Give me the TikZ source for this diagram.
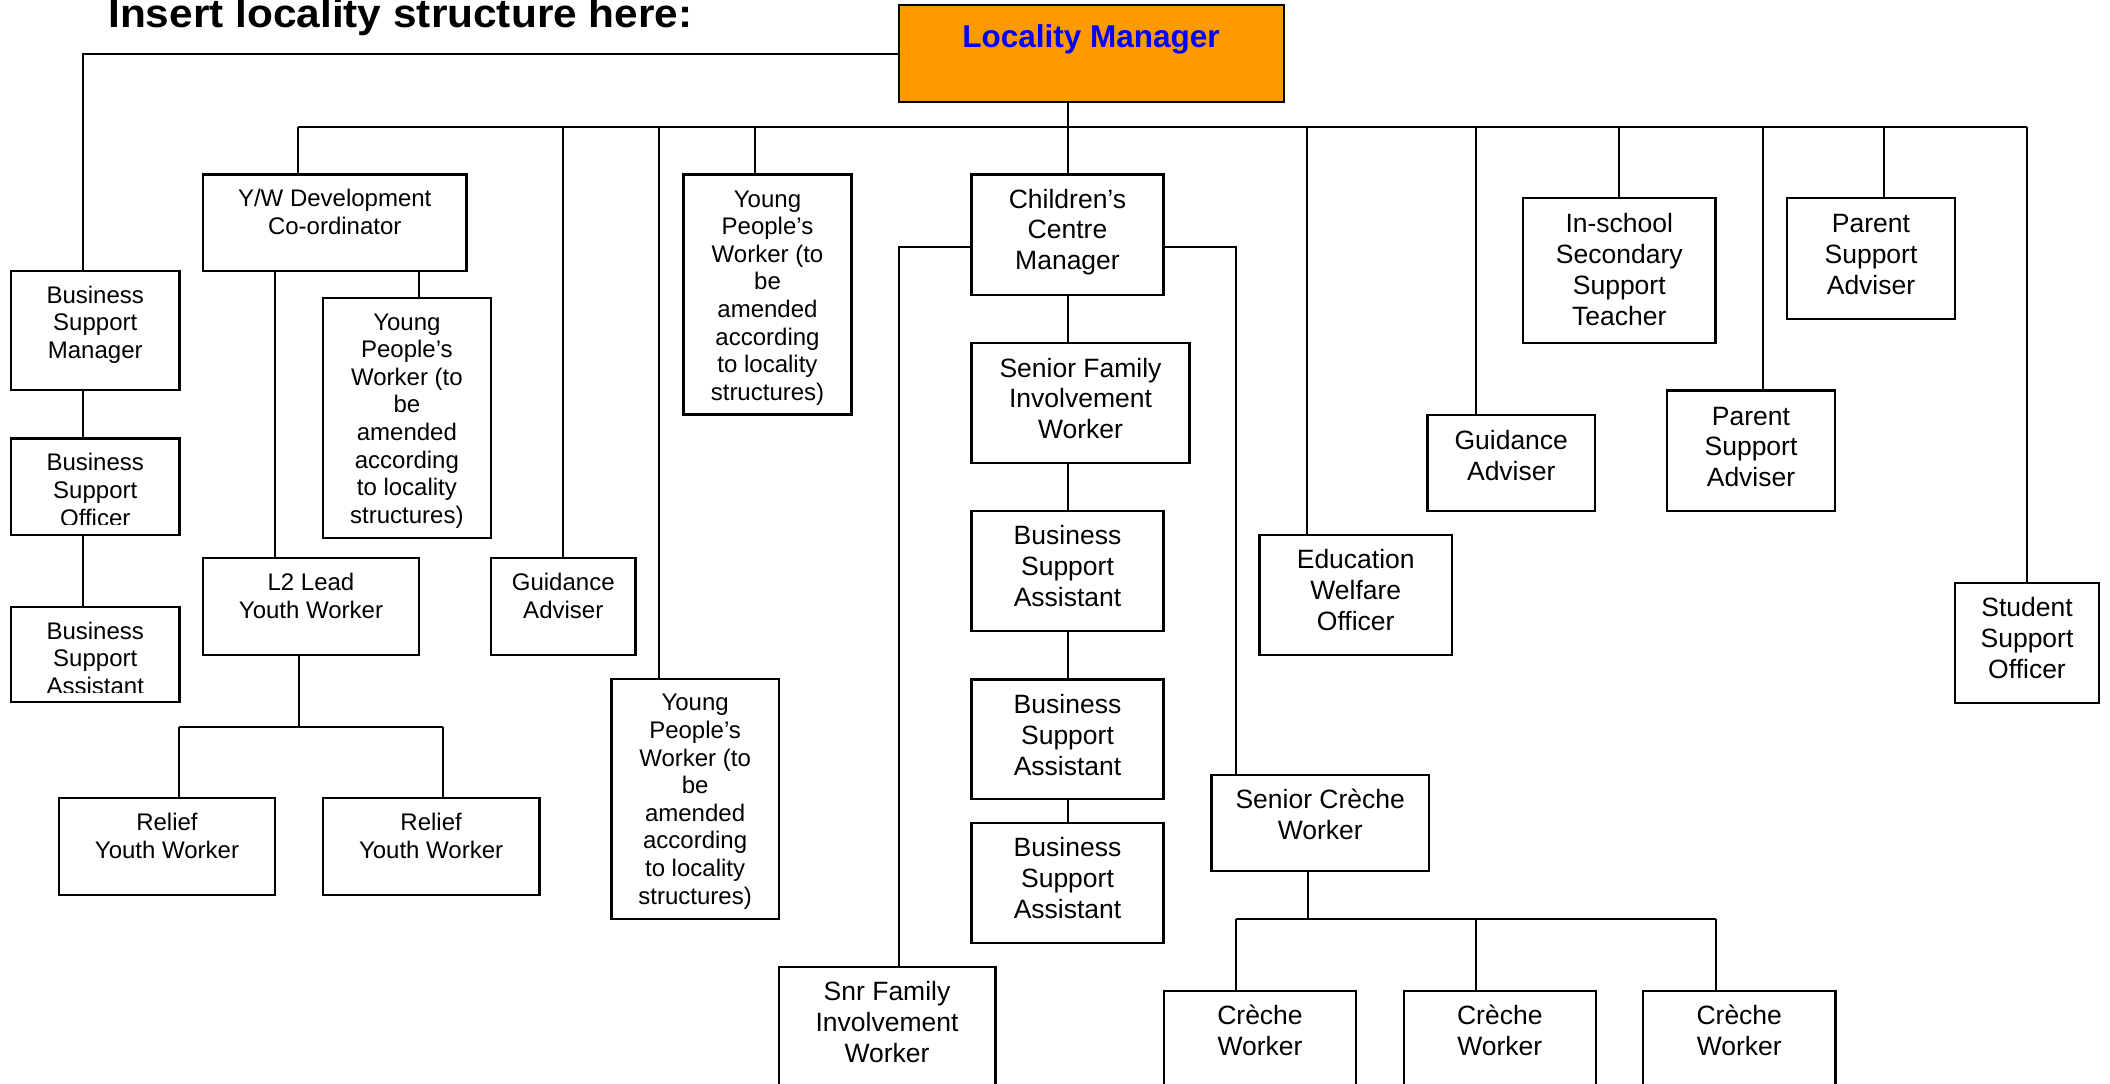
\documentclass[tikz,border=0pt]{standalone}
\usepackage{fontspec}
\setmainfont{Liberation Sans}
\definecolor{lmorange}{HTML}{FF9900}
\definecolor{lmblue}{HTML}{0000FF}
\tikzset{
  orgbox/.style={draw=black, line width=2.2pt, rectangle, inner sep=0pt, fill=white},
  link/.style={draw=black, line width=2pt},
  smalltxt/.style={inner sep=0pt, align=center, anchor=north, font=\fontsize{24}{27.6}\selectfont},
  bigtxt/.style={inner sep=0pt, align=center, anchor=north, font=\fontsize{26.5}{30.8}\selectfont},
}
% box from its corners: name, x1, y1, x2, y2 (y grows downwards)
\newcommand\orgnode[6][]{%
  \node[orgbox, #1, minimum width={(#5)-(#3)}, minimum height={(#6)-(#4)}]
    (#2) at ({((#3)+(#5))/2},{((#4)+(#6))/2}) {};}
% text in a box, first baseline given as an offset below the box top
\newcommand\smalltext[3]{\path (#1.north) ++(0,{#2-19.32}) node[smalltxt] (#1-t) {\strut #3};}
\newcommand\bigtext[3]{\path (#1.north) ++(0,{#2-21.56}) node[bigtxt] (#1-t) {\strut #3};}
\begin{document}
\begin{tikzpicture}[x=1pt,y=-1pt]
\useasboundingbox (0,0) rectangle (2110,1084);

% heading
\node[font=\fontsize{40}{46}\selectfont\bfseries, anchor=base west, inner sep=0pt, xscale=1.06]
  (title) at (108,27.5) {Insert locality structure here:};

% boxes
\orgnode[fill=lmorange]{lm}{899}{5}{1284}{102}
\orgnode{bsm}{11}{270.7}{179.5}{390}
\orgnode{bso}{11}{438.5}{179.5}{535}
\orgnode{bsaz}{11}{606.7}{179.5}{702}
\orgnode{yw}{203}{174.5}{466.5}{270.7}
\orgnode{ypwz}{322.8}{298.3}{491}{538.3}
\orgnode{ltwo}{203}{558.3}{419}{655}
\orgnode{gaa}{491}{558.3}{635.5}{655}
\orgnode{rela}{59}{798.3}{275}{895}
\orgnode{relb}{322.7}{798.3}{539.5}{895}
\orgnode{ypwa}{683.5}{174.5}{851.5}{414.5}
\orgnode{ypwb}{611.5}{679}{778.7}{918.7}
\orgnode{ccm}{971.5}{174.5}{1163.5}{294.7}
\orgnode{sfiw}{971.5}{342.9}{1189.5}{462.9}
\orgnode{bsaa}{971.5}{510.7}{1163.5}{631}
\orgnode{bsab}{971.5}{679.5}{1163.5}{798.7}
\orgnode{bsac}{971.5}{822.7}{1163.5}{943.3}
\orgnode{snr}{778.7}{966.7}{995.4}{1100}
\orgnode{scw}{1211.5}{774.7}{1429}{871}
\orgnode{cwa}{1164}{990.7}{1356}{1100}
\orgnode{cwb}{1403.6}{990.7}{1596}{1100}
\orgnode{cwc}{1643}{990.7}{1835.5}{1100}
\orgnode{ewo}{1259.5}{534.6}{1452}{654.6}
\orgnode{gab}{1427.5}{414.6}{1595}{510.7}
\orgnode{ins}{1523}{198.2}{1715.5}{342.9}
\orgnode{psaa}{1787}{198.2}{1955}{318.6}
\orgnode{psab}{1667}{390.4}{1835}{510.7}
\orgnode{sso}{1955}{582.9}{2099}{702.9}

% texts
\node[font=\fontsize{31.5}{36}\selectfont\bfseries, text=lmblue, anchor=base, inner sep=0pt]
  (lm-t) at (1091,47.5) {Locality Manager};
\smalltext{bsm}{33.3}{Business\\Support\\Manager}
\begin{scope}
  \clip (bso.north west) rectangle ([yshift=11.5pt]bso.south east);
  \smalltext{bso}{33.3}{Business\\Support\\Officer}
\end{scope}
\begin{scope}
  \clip (bsaz.north west) rectangle ([yshift=10.5pt]bsaz.south east);
  \smalltext{bsaz}{33.3}{Business\\Support\\Assistant}
\end{scope}
\smalltext{yw}{33.3}{Y/W Development\\Co-ordinator}
\smalltext{ypwz}{32.7}{Young\\People’s\\Worker (to\\be\\amended\\according\\to locality\\structures)}
\smalltext{ltwo}{33.4}{L2 Lead\\Youth Worker}
\smalltext{gaa}{33.4}{Guidance\\Adviser}
\smalltext{rela}{33.4}{Relief\\Youth Worker}
\smalltext{relb}{33.4}{Relief\\Youth Worker}
\smalltext{ypwa}{33.5}{Young\\People’s\\Worker (to\\be\\amended\\according\\to locality\\structures)}
\smalltext{ypwb}{32.7}{Young\\People’s\\Worker (to\\be\\amended\\according\\to locality\\structures)}
\bigtext{ccm}{34.5}{Children’s\\Centre\\Manager}
\bigtext{sfiw}{35}{Senior Family\\Involvement\\Worker}
\bigtext{bsaa}{35}{Business\\Support\\Assistant}
\bigtext{bsab}{35}{Business\\Support\\Assistant}
\bigtext{bsac}{35}{Business\\Support\\Assistant}
\bigtext{snr}{35}{Snr Family\\Involvement\\Worker}
\bigtext{scw}{35}{Senior Crèche\\Worker}
\bigtext{cwa}{35}{Crèche\\Worker}
\bigtext{cwb}{35}{Crèche\\Worker}
\bigtext{cwc}{35}{Crèche\\Worker}
\bigtext{ewo}{35}{Education\\Welfare\\Officer}
\bigtext{gab}{35.5}{Guidance\\Adviser}
\bigtext{ins}{35.5}{In-school\\Secondary\\Support\\Teacher}
\bigtext{psaa}{35.5}{Parent\\Support\\Adviser}
\bigtext{psab}{35.5}{Parent\\Support\\Adviser}
\bigtext{sso}{34.5}{Student\\Support\\Officer}

% connector ends on box tops and bottoms
\coordinate (bus) at (0,126.7);
\coordinate (ywT) at ([xshift=-36.5pt]yw.north);
\coordinate (ypwbT) at ([xshift=-36pt]ypwb.north);
\coordinate (ypwaT) at ([xshift=-13pt]ypwa.north);
\coordinate (ewoT) at ([xshift=-48.7pt]ewo.north);
\coordinate (gabT) at ([xshift=-35.7pt]gab.north);
\coordinate (psabT) at ([xshift=12pt]psab.north);
\coordinate (psaaT) at ([xshift=12.5pt]psaa.north);
\coordinate (bsmT) at ([xshift=-12pt]bsm.north);
\coordinate (bsmB) at ([xshift=-12pt]bsm.south);
\coordinate (bsoT) at ([xshift=-12pt]bso.north);
\coordinate (bsoB) at ([xshift=-12pt]bso.south);
\coordinate (bsazT) at ([xshift=-12pt]bsaz.north);
\coordinate (ltwoT) at ([xshift=-36pt]ltwo.north);
\coordinate (ypwzT) at ([xshift=12pt]ypwz.north);
\coordinate (ltwoB) at ([xshift=-12pt]ltwo.south);
\coordinate (relaT) at ([xshift=12pt]rela.north);
\coordinate (relbT) at ([xshift=12pt]relb.north);
\coordinate (reliefbar) at (0,727);
\coordinate (snrT) at ([xshift=12pt]snr.north);
\coordinate (scwT) at ([xshift=-84.5pt]scw.north);
\coordinate (scwB) at ([xshift=-12pt]scw.south);
\coordinate (crechebar) at (0,919);
\coordinate (cwaT) at ([xshift=-24pt]cwa.north);
\coordinate (cwbT) at ([xshift=-24pt]cwb.north);
\coordinate (cwcT) at ([xshift=-23.5pt]cwc.north);

% top level
\draw[link] (lm.south -| ccm.north) -- (ccm.north);
\draw[link] (ywT |- bus) -- (sso.north |- bus);
\foreach \t in {ywT, gaa.north, ypwbT, ypwaT, ewoT, gabT, ins.north, psabT, psaaT, sso.north}
  \draw[link] (\t |- bus) -- (\t);

% business support column
\draw[link] (lm.west) -| (bsmT);
\draw[link] (bsmB) -- (bsoT);
\draw[link] (bsoB) -- (bsazT);

% youth work branch
\draw[link] (ltwoT |- yw.south) -- (ltwoT);
\draw[link] (ypwzT |- yw.south) -- (ypwzT);
\draw[link] (ltwoB) -- (ltwoB |- reliefbar);
\draw[link] (relaT |- reliefbar) -- (relbT |- reliefbar);
\draw[link] (relaT |- reliefbar) -- (relaT);
\draw[link] (relbT |- reliefbar) -- (relbT);

% children's centre branch
\draw[link] ([yshift=-12pt]ccm.west) -| (snrT);
\draw[link] ([yshift=-12pt]ccm.east) -| (scwT);
\draw[link] (ccm.south) -- (ccm.south |- sfiw.north);
\draw[link] (sfiw.south -| ccm.south) -- (bsaa.north);
\draw[link] (bsaa.south) -- (bsab.north);
\draw[link] (bsab.south) -- (bsac.north);

% creche team
\draw[link] (scwB) -- (scwB |- crechebar);
\draw[link] (cwaT |- crechebar) -- (cwcT |- crechebar);
\foreach \t in {cwaT, cwbT, cwcT}
  \draw[link] (\t |- crechebar) -- (\t);
\end{tikzpicture}
\end{document}
